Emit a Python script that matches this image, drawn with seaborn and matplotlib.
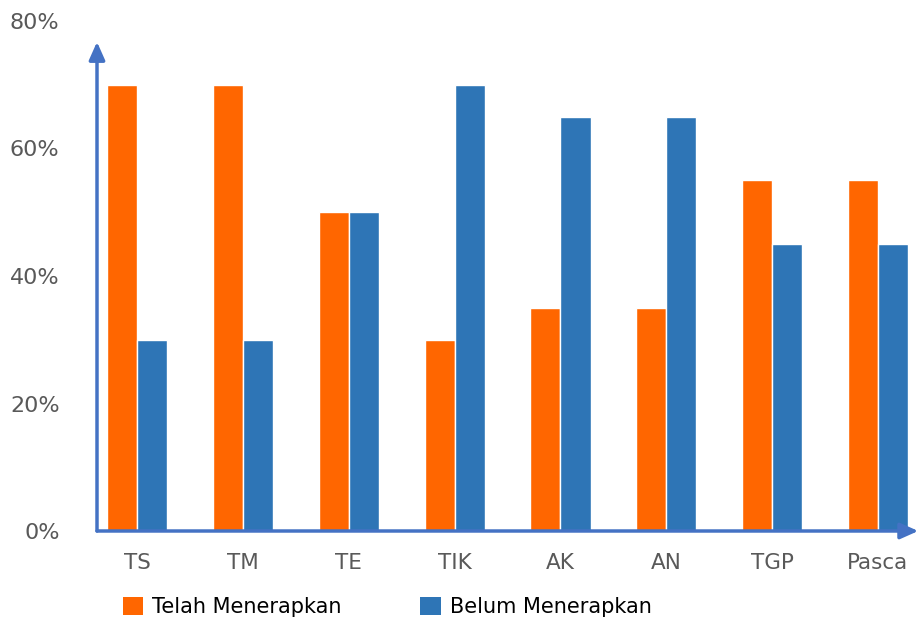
import matplotlib
matplotlib.use("Agg")
import matplotlib.pyplot as plt
from matplotlib.patches import Patch
import seaborn as sns
import pandas as pd

categories = ["TS", "TM", "TE", "TIK", "AK", "AN", "TGP", "Pasca"]
telah = [70, 70, 50, 30, 35, 35, 55, 55]
belum = [30, 30, 50, 70, 65, 65, 45, 45]
series = ["Telah Menerapkan", "Belum Menerapkan"]
colors = ["#FF6600", "#2E75B6"]

df = pd.DataFrame({
    "cat": categories * 2,
    "val": telah + belum,
    "series": [series[0]] * len(categories) + [series[1]] * len(categories),
})

sns.set_theme(style="white")
plt.rcParams["font.family"] = ["DejaVu Sans"]

fig = plt.figure(figsize=(9.18, 6.21), dpi=100)
ax = fig.add_axes([97 / 918, 1 - 531 / 621, (915 - 97) / 918, (531 - 21) / 621])

sns.barplot(data=df, x="cat", y="val", hue="series", palette=colors,
            width=0.57, edgecolor="white", linewidth=1, ax=ax, legend=False,
            saturation=1)

ax.set_xlim(-0.38, 7.35)
ax.set_ylim(0, 80)
ax.set_yticks([0, 20, 40, 60, 80])
ax.set_yticklabels([f"{v}%" for v in [0, 20, 40, 60, 80]])
ax.set_xlabel("")
ax.set_ylabel("")
for s in ax.spines.values():
    s.set_visible(False)
ax.tick_params(axis="y", length=0, pad=27, labelsize=16, labelcolor="#595959")
ax.tick_params(axis="x", length=0, pad=16, labelsize=15.5, labelcolor="#595959")
ax.grid(False)

axis_col = "#4472C4"
ax.annotate("", xy=(0, 0.959), xytext=(0, 0), xycoords="axes fraction",
            arrowprops=dict(arrowstyle="-|>,head_length=0.9,head_width=0.4",
                            color=axis_col, lw=2.5, shrinkA=0, shrinkB=0),
            annotation_clip=False)
ax.annotate("", xy=(1.004, 0), xytext=(0, 0), xycoords="axes fraction",
            arrowprops=dict(arrowstyle="-|>,head_length=0.9,head_width=0.4",
                            color=axis_col, lw=2.5, shrinkA=0, shrinkB=0),
            annotation_clip=False)

handles = [Patch(facecolor=c, edgecolor="none") for c in colors]
leg = fig.legend(handles, series, loc="lower left", bbox_to_anchor=(110 / 918, -0.014),
                 ncol=2, frameon=False, fontsize=15, handlelength=1.0, handleheight=1.0,
                 handletextpad=0.4, columnspacing=3.8, borderaxespad=0.2)
for t in leg.get_texts():
    t.set_color("#000000")

fig.savefig("out.png", dpi=100)
